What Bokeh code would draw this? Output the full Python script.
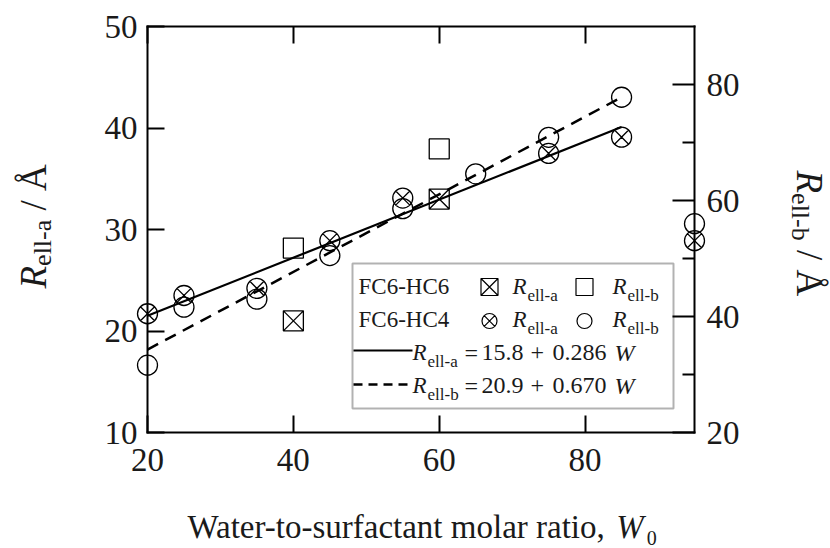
import math
from bokeh.plotting import figure
from bokeh.models import Range1d, LinearAxis, FixedTicker, Label, BoxAnnotation
from bokeh.embed import file_html
from bokeh.resources import INLINE

# ---------------- data ----------------
# FC6-HC6
w_hc6 = [40, 60]
ra_hc6 = [21.0, 33.0]          # R_ell-a (left axis)
rb_hc6 = [51.8, 68.9]          # R_ell-b (right axis)
# FC6-HC4
w_hc4_a = [20, 25, 35, 45, 55, 75, 85, 95]
ra_hc4 = [21.7, 23.5, 24.2, 28.9, 33.1, 37.5, 39.1, 28.9]
w_hc4_b = [20, 25, 35, 45, 55, 65, 75, 85, 95]
rb_hc4 = [31.6, 41.6, 43.0, 50.5, 58.6, 64.6, 70.9, 77.8, 56.0]
# fitted lines (end points)
fit_w = [20, 85]
fit_a = [21.5, 40.1]
fit_b = [34.3, 77.8]
# axis limits and ticks
x_lim = (20, 95)
ya_lim = (10, 50)
yb_lim = (20, 90)
x_ticks = [20, 40, 60, 80]
ya_ticks = [10, 20, 30, 40, 50]
yb_ticks = [20, 40, 60, 80]
yb_minor = [30, 50, 70]

# ---------------- layout ----------------
W, H = 830, 548
FL, FR, FT, FB = 147, 694, 26, 432          # pixel box of the chart frame
kx = (FR - FL) / (x_lim[1] - x_lim[0])
ka = (FB - FT) / (ya_lim[1] - ya_lim[0])
kb = (FB - FT) / (yb_lim[1] - yb_lim[0])
FONT = "Liberation Serif"
INK = "#1a1a1a"

p = figure(width=W, height=H,
           x_range=Range1d(x_lim[0] - FL / kx, x_lim[1] + (W - FR) / kx),
           y_range=Range1d(ya_lim[0] - (H - FB) / ka, ya_lim[1] + FT / ka),
           output_backend="svg", toolbar_location=None,
           x_axis_location=None, y_axis_location=None,
           min_border=0, min_border_left=0, min_border_right=0,
           min_border_top=0, min_border_bottom=0)
p.extra_y_ranges = {"b": Range1d(yb_lim[0] - (H - FB) / kb, yb_lim[1] + FT / kb)}
p.grid.visible = False
p.outline_line_color = None
p.background_fill_color = "white"
p.border_fill_color = "white"


def style_axis(ax, tin, minor_in=0, labels=True, standoff=10):
    ax.axis_line_width = 2
    ax.axis_line_color = "black"
    ax.axis_line_cap = "square"
    ax.major_tick_in = tin
    ax.major_tick_out = 0
    ax.major_tick_line_width = 2
    ax.minor_tick_in = minor_in
    ax.minor_tick_out = 0
    ax.minor_tick_line_width = 2
    ax.major_label_text_font = FONT
    ax.major_label_text_color = INK
    ax.major_label_standoff = standoff
    if labels:
        ax.major_label_text_font_size = "33px"
    else:
        ax.major_label_text_font_size = "1px"
        ax.major_label_text_alpha = 0


bottom = LinearAxis(ticker=FixedTicker(ticks=x_ticks), fixed_location=ya_lim[0], bounds=x_lim)
style_axis(bottom, 17, standoff=16)
top = LinearAxis(ticker=FixedTicker(ticks=x_ticks), fixed_location=ya_lim[1], bounds=x_lim)
style_axis(top, 17, labels=False, standoff=0)
left = LinearAxis(ticker=FixedTicker(ticks=ya_ticks), fixed_location=x_lim[0], bounds=ya_lim)
style_axis(left, 17, standoff=10)
right = LinearAxis(y_range_name="b", ticker=FixedTicker(ticks=yb_ticks, minor_ticks=yb_minor),
                   fixed_location=x_lim[1], bounds=yb_lim)
style_axis(right, 22, minor_in=12, standoff=12)
p.add_layout(bottom, "below")
p.add_layout(top, "above")
p.add_layout(left, "left")
p.add_layout(right, "right")

# ---------------- data marks ----------------
p.line(fit_w, fit_a, line_color="black", line_width=2.2)
p.line(fit_w, fit_b, y_range_name="b", line_color="black", line_width=2.5, line_dash="12 8")

mk = dict(fill_color=None, line_color="black", line_width=1.3, size=20)
p.scatter(w_hc6, ra_hc6, marker="square_x", **mk)
p.scatter(w_hc6, rb_hc6, marker="square", y_range_name="b", **mk)
p.scatter(w_hc4_a, ra_hc4, marker="circle_x", **mk)
p.scatter(w_hc4_b, rb_hc4, marker="circle", y_range_name="b", **mk)

# ---------------- text helpers ----------------
REG = {' ': 250, '-': 333, ',': 250, '.': 250, '/': 278, '+': 564, '=': 564,
       'A': 722, 'C': 667, 'F': 556, 'H': 722, 'R': 667, 'W': 944,
       'a': 444, 'b': 500, 'c': 444, 'e': 444, 'f': 333, 'i': 278, 'l': 278,
       'm': 778, 'n': 500, 'o': 500, 'r': 333, 's': 389, 't': 278, 'u': 500,
       'Å': 722}
ITA = {'R': 611, 'W': 833}


def tw(s, size, italic=False):
    tot = 0
    for ch in s:
        if ch.isdigit():
            tot += 500
        elif italic and ch in ITA:
            tot += ITA[ch]
        else:
            tot += REG.get(ch, 500)
    return tot * size / 1000.0


def sx(px):
    return p.x_range.start + px / kx


def sy(py):
    return p.y_range.end - py / ka


def txt(s, px, py, size, style="normal", angle=0.0):
    p.add_layout(Label(x=sx(px), y=sy(py), text=s, text_font=FONT,
                       text_font_size=f"{size}px", text_font_style=style,
                       text_align="left", text_baseline="alphabetic",
                       angle=angle, text_color=INK))


# x-axis title
XT = "Water-to-surfactant molar ratio,"
x0 = 187
txt(XT, x0, 526, 33)
xw = x0 + tw(XT + " ", 33)
txt("W", xw, 526, 33, "italic")
txt("0", xw + tw("W", 33, True) + 3, 537, 20)

# left title (reads bottom -> top)
MS, SS = 37, 26
yy = 288
txt("R", 33, yy, MS, "italic", math.pi / 2)
yy -= tw("R", MS, True)
txt("ell-a", 42, yy, SS, "normal", math.pi / 2)
yy -= tw("ell-a", SS) + tw(" ", MS)
txt("/ Å", 33, yy, MS, "normal", math.pi / 2)

# right title (reads top -> bottom)
yy = 170
txt("R", 809, yy, MS, "italic", -math.pi / 2)
yy += tw("R", MS, True)
txt("ell-b", 800, yy, SS, "normal", -math.pi / 2)
yy += tw("ell-b", SS) + tw(" ", MS)
txt("/ Å", 809, yy, MS, "normal", -math.pi / 2)

# ---------------- legend ----------------
p.add_layout(BoxAnnotation(left=sx(352), right=sx(673), top=sy(263), bottom=sy(408),
                           fill_color=None, line_color="black", line_width=2))
LF, LS, EF = 23, 17, 24
rows = [286, 319, 352, 385]     # text baselines
mrow = [286.5, 320.5]           # swatch centres
lrow = [350, 384]               # legend line positions


def rsub(px, base, sub):
    txt("R", px, base, LF, "italic")
    txt(sub, px + tw("R", LF, True) + 1, base + 9, LS)


txt("FC6-HC6", 358, rows[0], LF)
p.scatter([sx(489)], [sy(mrow[0])], marker="square_x", fill_color=None,
          line_color="black", line_width=1.2, size=17)
rsub(512, rows[0], "ell-a")
p.scatter([sx(584)], [sy(mrow[0])], marker="square", fill_color=None,
          line_color="black", line_width=1.2, size=17)
rsub(612, rows[0], "ell-b")

txt("FC6-HC4", 358, rows[1], LF)
p.scatter([sx(489)], [sy(mrow[1])], marker="circle_x", fill_color=None,
          line_color="black", line_width=1.2, size=15)
rsub(512, rows[1], "ell-a")
p.scatter([sx(584)], [sy(mrow[1])], marker="circle", fill_color=None,
          line_color="black", line_width=1.2, size=15)
rsub(612, rows[1], "ell-b")

p.line([sx(353), sx(412)], [sy(lrow[0])] * 2, line_color="black", line_width=2)
rsub(412, rows[2], "ell-a")
p.line([sx(353), sx(412)], [sy(lrow[1])] * 2, line_color="black", line_width=2.5,
       line_dash="9 6")
rsub(412, rows[3], "ell-b")

for base, a, b in [(rows[2], "15.8", "0.286"), (rows[3], "20.9", "0.670")]:
    txt("=", 464, base, EF)
    txt(a, 481, base, EF)
    txt("+", 530, base, EF)
    txt(b, 552, base, EF)
    txt("W", 614, base, EF, "italic")

open("out.html", "w").write(file_html(p, INLINE))
